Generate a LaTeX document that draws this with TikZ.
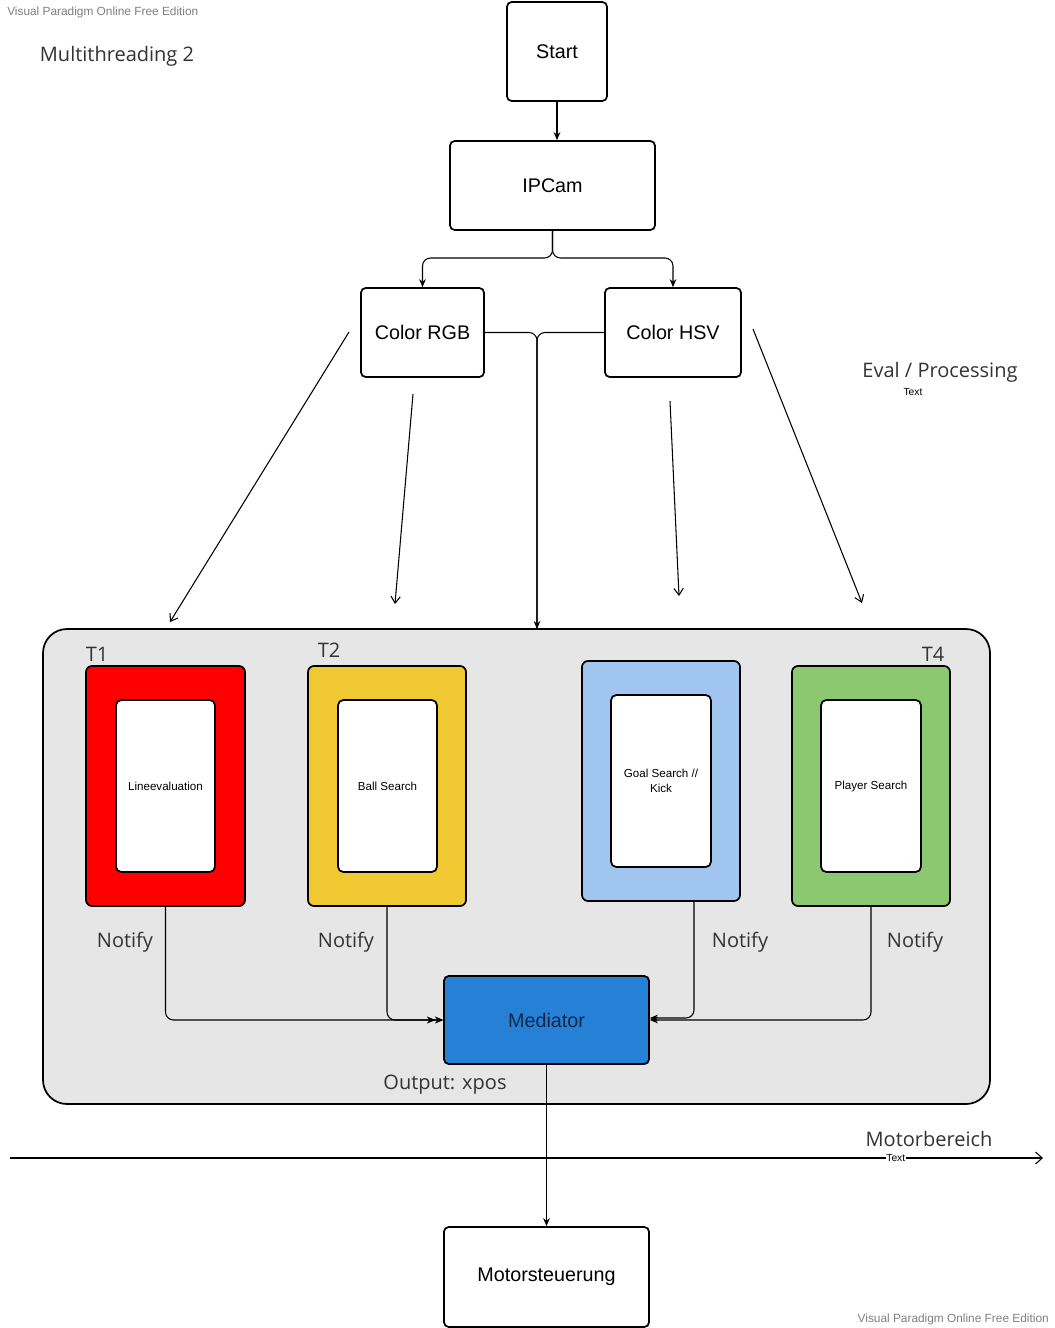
\documentclass[tikz,border=0pt]{standalone}
\usepackage{fontspec}
\setmainfont{Liberation Sans}
\newfontfamily\osans{Open Sans}
\usetikzlibrary{arrows.meta}
\definecolor{tred}{HTML}{FF0000}
\definecolor{tyel}{HTML}{F0C832}
\definecolor{tblu}{HTML}{A0C6F0}
\definecolor{tgrn}{HTML}{8CC870}
\definecolor{medblue}{HTML}{2680D5}
\definecolor{medtext}{HTML}{10284A}
\definecolor{contgray}{HTML}{E6E6E6}
\definecolor{lbl}{HTML}{333333}
\definecolor{wm}{HTML}{808080}
\tikzset{
  sz/.style 2 args={minimum width=#1*0.75pt, minimum height=#2*0.75pt, inner sep=0pt},
  box/.style={draw=black, line width=1.3pt, rounded corners=3.5pt, fill=white,
    font=\fontsize{14.8}{17}\selectfont},
  thread/.style={draw=black, line width=1.3pt, rounded corners=4.5pt},
  inner/.style={draw=black, line width=1.3pt, rounded corners=4pt, fill=white,
    font=\fontsize{8.7}{11}\selectfont, align=center},
  oslabel/.style={font=\osans\fontsize{15}{18}\selectfont, text=lbl, inner sep=0pt, yshift=-1.5pt},
  small/.style={font=\fontsize{7.7}{9}\selectfont, inner sep=0.5pt},
  watermark/.style={font=\fontsize{8.9}{10}\selectfont, text=wm, inner sep=0pt},
  conn/.style={line width=0.8pt, draw=black},
  tip/.style={-{Stealth[length=6pt,width=5pt]}},
  freearr/.style={line width=0.8pt, -{Straight Barb[length=5pt,width=7pt]}},
}
\begin{document}
\begin{tikzpicture}[x=0.75pt, y=-0.75pt]
\useasboundingbox (0,0) rectangle (1055,1328);
\fill[white] (0,0) rectangle (1055,1328);

% texts
\node[watermark, anchor=west] (wm1) at (7,12) {Visual Paradigm Online Free Edition};
\node[watermark, anchor=east] (wm2) at (1049,1319) {Visual Paradigm Online Free Edition};
\node[oslabel] (title) at (117,54) {Multithreading 2};
\node[oslabel] (eval) at (940,370) {Eval / Processing};
\node[small] (evaltext) at (913,392) {Text};

% top boxes
\node[box, sz={100}{99}] (start) at (557,51.5) {Start};
\node[box, sz={205}{89}] (ipcam) at (552.5,185.5) {IPCam};
\node[box, sz={123}{89}] (rgb) at (422.5,332.5) {Color RGB};
\node[box, sz={136}{89}] (hsv) at (673,332.5) {Color HSV};

\draw[conn, tip] (start.south) -- (ipcam.north -| start.south);
\coordinate (split) at (552.5,258);
\draw[conn, tip, rounded corners=6pt] (ipcam.south) -- (split) -| (rgb.north);
\draw[conn, tip, rounded corners=6pt] (ipcam.south) -- (split) -| (hsv.north);

% container
\node[draw=black, line width=1.3pt, fill=contgray, rounded corners=18pt, sz={947}{475}] (cont) at (516.5,866.5) {};

\coordinate (jdown) at (537,629);
\draw[conn, rounded corners=6pt] (rgb.east) -| (jdown);
\draw[conn, tip, rounded corners=6pt] (hsv.west) -| (jdown);

% free arrows
\coordinate (f1s) at (349,332); \coordinate (f1e) at (170,622);
\coordinate (f2s) at (413,394); \coordinate (f2e) at (395,604);
\coordinate (f3s) at (670,401); \coordinate (f3e) at (679,596);
\coordinate (f4s) at (753,329); \coordinate (f4e) at (862,603);
\draw[freearr] (f1s) -- (f1e);
\draw[freearr] (f2s) -- (f2e);
\draw[freearr] (f3s) -- (f3e);
\draw[freearr] (f4s) -- (f4e);

% threads
\node[thread, fill=tred, sz={159}{240}] (t1) at (165.5,786) {};
\node[inner, sz={99}{172}] (t1i) at (165.5,786) {Lineevaluation};
\node[thread, fill=tyel, sz={158}{240}] (t2) at (387,786) {};
\node[inner, sz={99}{172}] (t2i) at (387.5,786) {Ball Search};
\node[thread, fill=tblu, sz={158}{240}] (t3) at (661,781) {};
\node[inner, sz={100}{172}] (t3i) at (661,781) {Goal Search //\\Kick};
\node[thread, fill=tgrn, sz={158}{240}] (t4) at (871,786) {};
\node[inner, sz={100}{172}] (t4i) at (871,786) {Player Search};

\node[oslabel] (lt1) at (97,652) {T1};
\node[oslabel] (lt2) at (329,648) {T2};
\node[oslabel] (lt4) at (933,652) {T4};

\node[oslabel] (n1) at (125,940) {Notify};
\node[oslabel] (n2) at (346,940) {Notify};
\node[oslabel] (n3) at (740,940) {Notify};
\node[oslabel] (n4) at (915,940) {Notify};

% mediator
\node[box, fill=medblue, text=medtext, sz={205}{88}] (med) at (546.5,1020) {Mediator};
\node[oslabel] (out) at (445,1083) {Output: xpos};

\draw[conn, rounded corners=6pt, -{Stealth[length=6pt,width=5pt]Stealth[length=6pt,width=5pt]}] (t1.south) |- (med.west);
\draw[conn, rounded corners=6pt, -{Stealth[length=6pt,width=5pt]Stealth[length=6pt,width=5pt]}] (t2.south) |- (med.west);
\draw[conn, tip, rounded corners=6pt] ([xshift=24.75pt]t3.south) |- ([yshift=1.5pt]med.east);
\draw[conn, tip, rounded corners=6pt] (t4.south) |- (med.east);

% motor
\node[box, sz={205}{100}] (motor) at (546.5,1277) {Motorsteuerung};
\draw[conn, tip] (med.south) -- (motor.north);

\coordinate (ml) at (10,1158);
\coordinate (mr) at (1043,1158);
\draw[conn, -{Straight Barb[length=5pt,width=9pt]}] (ml) -- (mr)
  node[small, fill=white, pos=0.8575] (mtext) {Text};
\node[oslabel] (motorb) at (929,1137) {Motorbereich};
\end{tikzpicture}
\end{document}
